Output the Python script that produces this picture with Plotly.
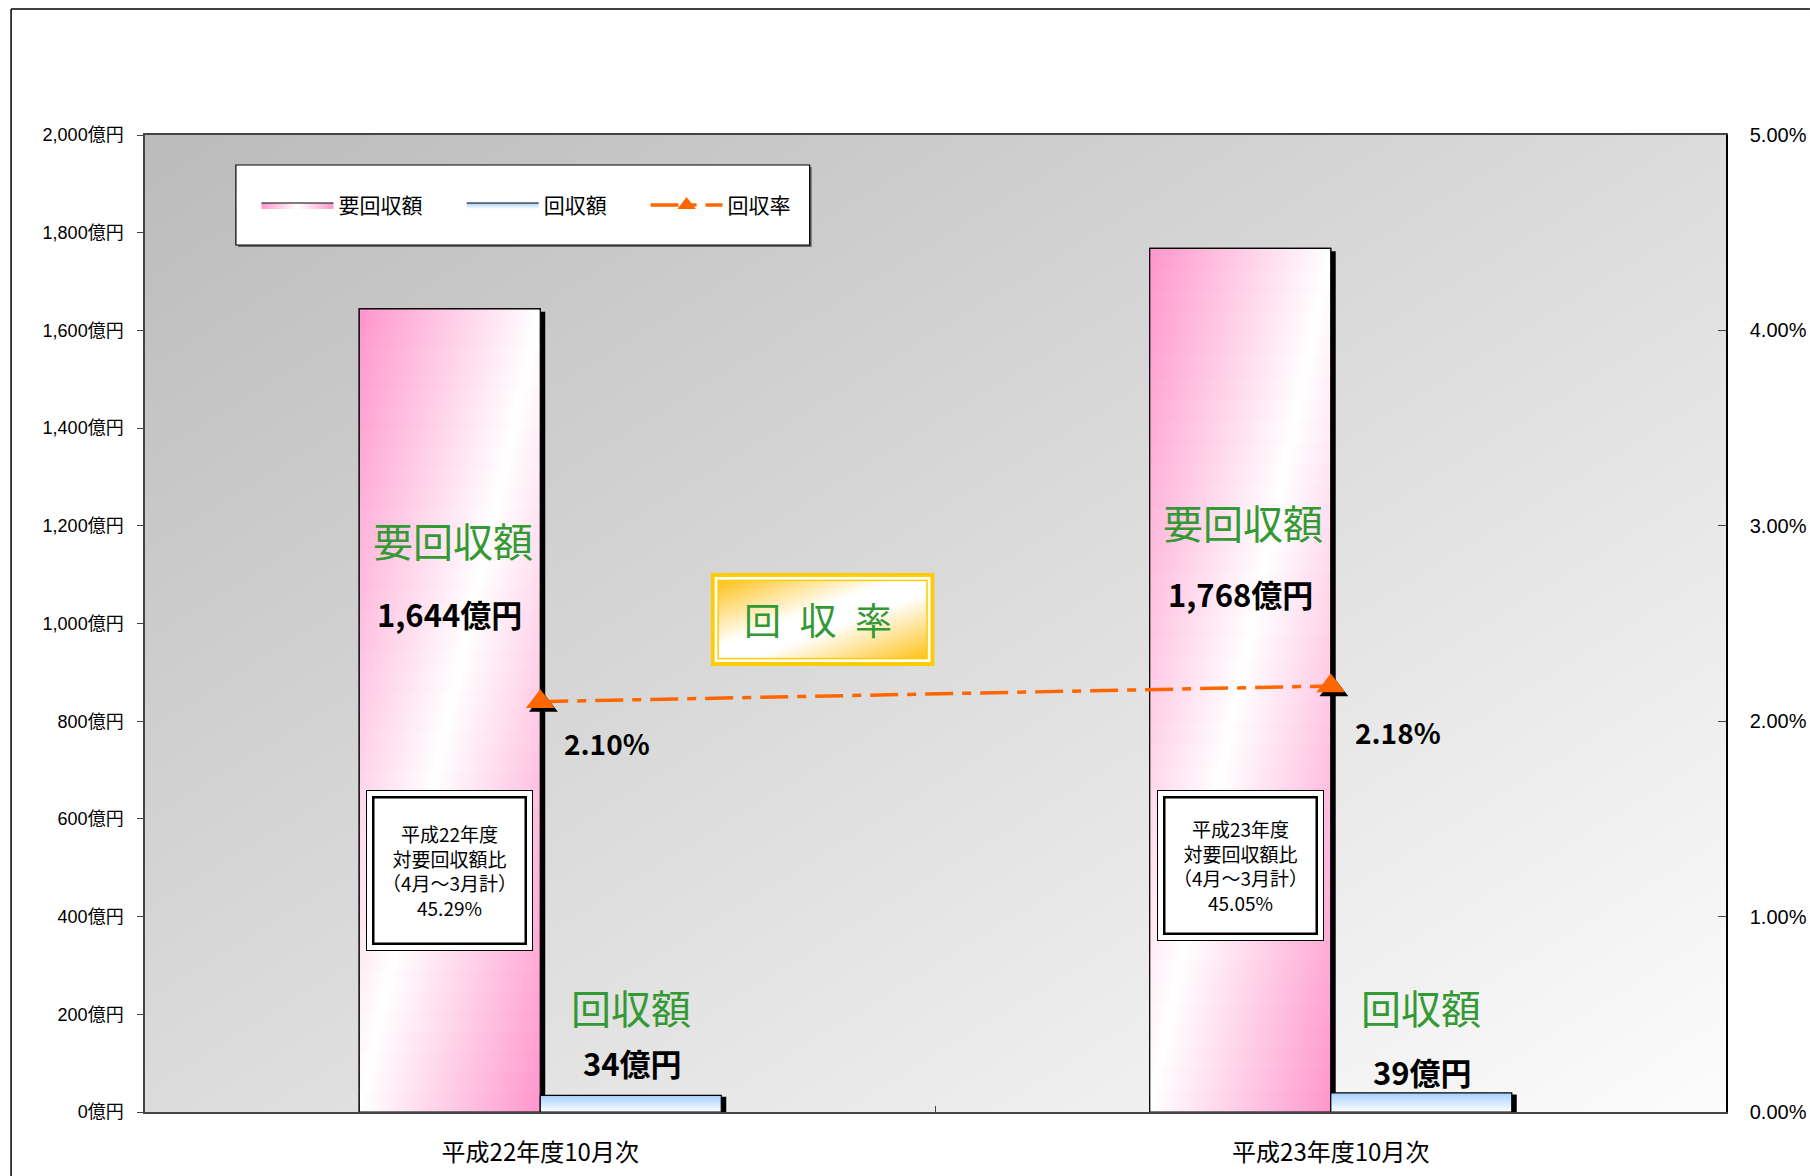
import base64
import plotly.graph_objects as go

# ---------------- data ----------------
categories = ["平成22年度10月次", "平成23年度10月次"]
required_amount = [1644, 1768]      # 要回収額 (億円)
collected_amount = [34, 39]         # 回収額 (億円)
collection_rate = [2.10, 2.18]      # 回収率 (%)
fiscal_years = ["平成22年度", "平成23年度"]
annual_ratio = [45.29, 45.05]       # 対要回収額比 (4月～3月計, %)
left_tick_values = [0, 200, 400, 600, 800, 1000, 1200, 1400, 1600, 1800, 2000]
right_tick_values = [0, 1, 2, 3, 4, 5]
series_names = ["要回収額", "回収額", "回収率"]

# ---------------- styles ----------------
JP = '"Noto Sans CJK JP", sans-serif'
ARIAL_JP = 'Arial, "Liberation Sans", "Noto Sans CJK JP", sans-serif'
GREEN = "#339933"
ORANGE = "#FF6600"
PINK_RGB = (255, 150, 204)
BAR_W = 0.229          # width of one bar, in category units
SHADOW_DX = 0.0063     # shadow offset (x, category units)
SHADOW_DY = 6          # shadow offset (y, 億円)
N_SLICES = 40          # slices used to fake the diagonal gradient
BOX_OUTER_H = [159, 149]
BOX_INNER_H = [144, 134]
LEGEND_X = [0.0705, 0.2003, 0.3166]   # paper x of each legend entry

PINK_GRAD = dict(type="horizontal",
                 colorscale=[[0, "#FF99CC"], [0.5, "#FFFFFF"], [1, "#FF99CC"]])
BLUE_GRAD = dict(type="vertical",
                 colorscale=[[0, "#FFFFFF"], [1, "#A6CFFF"]])


def pink_at(d):
    k = min(1.0, abs(d - 0.5) * 2)
    r, g, b = [round(255 * (1 - k) + c * k) for c in PINK_RGB]
    return f"rgb({r},{g},{b})"


def svg_uri(svg):
    return "data:image/svg+xml;base64," + base64.b64encode(svg.encode("utf-8")).decode("ascii")


bg_svg = ('<svg xmlns="http://www.w3.org/2000/svg" width="100" height="100" viewBox="0 0 100 100" '
          'preserveAspectRatio="none"><defs><linearGradient id="g" x1="0" y1="0" x2="1" y2="1">'
          '<stop offset="0" stop-color="#BBBBBB"/><stop offset="1" stop-color="#FCFCFC"/>'
          '</linearGradient></defs><rect width="100" height="100" fill="url(#g)"/></svg>')

box_svg = ('<svg xmlns="http://www.w3.org/2000/svg" width="224" height="94" viewBox="0 0 224 94" '
           'preserveAspectRatio="none"><defs><linearGradient id="g" x1="0" y1="0" x2="1" y2="1">'
           '<stop offset="0" stop-color="#FFC21A"/><stop offset="0.42" stop-color="#FFFFFF"/>'
           '<stop offset="0.58" stop-color="#FFFFFF"/><stop offset="1" stop-color="#FFC21A"/>'
           '</linearGradient></defs>'
           '<rect x="2" y="2" width="220" height="90" fill="#FFFFFF" stroke="#FFCC00" stroke-width="4"/>'
           '<rect x="7.5" y="7.5" width="209" height="79" fill="url(#g)" stroke="#FFCC00" stroke-width="1.5"/>'
           '</svg>')

fig = go.Figure()


def bar_poly(x0, x1, y0, y1):
    return [x0, x1, x1, x0, x0], [y0, y0, y1, y1, y0]


for i, cat in enumerate(categories):
    cx = i + 0.5
    top = required_amount[i]
    # --- 要回収額 (pink) ---
    sx, sy = bar_poly(cx - BAR_W + SHADOW_DX, cx + SHADOW_DX, 0, top - SHADOW_DY)
    fig.add_trace(go.Scatter(x=sx, y=sy, mode="lines", fill="toself", fillcolor="black",
                             line=dict(width=0, color="black"), showlegend=False, hoverinfo="skip"))
    px, py = bar_poly(cx - BAR_W, cx, 0, top)
    fig.add_trace(go.Scatter(x=px, y=py, mode="lines", fill="toself", fillcolor="#FFCCE6",
                             fillgradient=PINK_GRAD, line=dict(width=1.2, color="black"),
                             name=series_names[0], legendgroup="req", showlegend=(i == 0),
                             legend="legend", hoverinfo="skip"))
    # diagonal gradient built from horizontal slices of the same bar
    step = top / N_SLICES
    for j in range(N_SLICES):
        vm = (j + 0.5) / N_SLICES
        y0 = step * j
        y1 = min(top, step * (j + 1) + step * 0.35)
        cs = [[0, pink_at((1 - vm) / 2)], [vm, "#FFFFFF"], [1, pink_at((2 - vm) / 2)]]
        qx, qy = bar_poly(cx - BAR_W, cx, y0, y1)
        fig.add_trace(go.Scatter(x=qx, y=qy, mode="lines", fill="toself", fillcolor="#FFE0F0",
                                 fillgradient=dict(type="horizontal", colorscale=cs),
                                 line=dict(width=0, color="rgba(0,0,0,0)"),
                                 showlegend=False, hoverinfo="skip"))
    fig.add_trace(go.Scatter(x=px, y=py, mode="lines", line=dict(width=1.2, color="black"),
                             showlegend=False, hoverinfo="skip"))
    # --- 回収額 (blue) ---
    sx, sy = bar_poly(cx + SHADOW_DX, cx + BAR_W + SHADOW_DX, 0, collected_amount[i] - SHADOW_DY / 2)
    fig.add_trace(go.Scatter(x=sx, y=sy, mode="lines", fill="toself", fillcolor="black",
                             line=dict(width=0, color="black"), showlegend=False, hoverinfo="skip"))
    bx, by = bar_poly(cx, cx + BAR_W, 0, collected_amount[i])
    fig.add_trace(go.Scatter(x=bx, y=by, mode="lines", fill="toself", fillcolor="#DDEEFF",
                             fillgradient=BLUE_GRAD, line=dict(width=1.2, color="black"),
                             name=series_names[1], legendgroup="col", showlegend=(i == 0),
                             legend="legend2", hoverinfo="skip"))

cat_x = [i + 0.5 for i in range(len(categories))]

# marker shadow
fig.add_trace(go.Scatter(x=[x + 0.004 for x in cat_x], y=[r - 0.02 for r in collection_rate],
                         yaxis="y2", mode="markers",
                         marker=dict(symbol="triangle-up", size=25, color="black"),
                         showlegend=False, hoverinfo="skip"))
# 回収率 line
fig.add_trace(go.Scatter(x=cat_x, y=collection_rate, yaxis="y2", mode="lines+markers",
                         name=series_names[2], legend="legend3",
                         line=dict(color=ORANGE, width=3.5, dash="28px,9px,9px,9px"),
                         marker=dict(symbol="triangle-up", size=25, color=ORANGE),
                         hoverinfo="skip"))

# ---------------- annotations ----------------
ann = []
title_y = [1171, 1208]
amount_y = [1021, 1062]
rate_y = [755, 778]
col_title_y = [215, 215]
col_amount_y = [102, 82]
box_y = [495, 504]
for i in range(len(categories)):
    cx = i + 0.5
    pink_x = cx - BAR_W / 2
    blue_x = cx + BAR_W / 2
    ann.append(dict(x=pink_x + 0.004, y=title_y[i], text=series_names[0], showarrow=False,
                    font=dict(family=JP, size=40, color=GREEN)))
    ann.append(dict(x=pink_x, y=amount_y[i], text=f"<b>{required_amount[i]:,}億円</b>", showarrow=False,
                    font=dict(family=JP, size=31, color="black")))
    ann.append(dict(x=cx + 0.085, y=rate_y[i], text=f"<b>{collection_rate[i]:.2f}%</b>", showarrow=False,
                    font=dict(family=JP, size=28, color="black")))
    ann.append(dict(x=blue_x, y=col_title_y[i], text=series_names[1], showarrow=False,
                    font=dict(family=JP, size=40, color=GREEN)))
    ann.append(dict(x=blue_x + 0.002, y=col_amount_y[i], text=f"<b>{collected_amount[i]}億円</b>",
                    showarrow=False, font=dict(family=JP, size=31, color="black")))
    # double-bordered note box
    ann.append(dict(x=pink_x, y=box_y[i], text=" ", showarrow=False, width=165, height=BOX_OUTER_H[i],
                    bgcolor="white", bordercolor="black", borderwidth=1, borderpad=0))
    ann.append(dict(x=pink_x, y=box_y[i],
                    text=f"{fiscal_years[i]}<br>対要回収額比<br>（4月～3月計）<br>{annual_ratio[i]:.2f}%",
                    showarrow=False, width=150, height=BOX_INNER_H[i], bgcolor="white",
                    bordercolor="black", borderwidth=2.5, borderpad=0, valign="middle",
                    font=dict(family=JP, size=19, color="black")))

# 回収率 label box text
ann.append(dict(xref="paper", yref="paper", x=0.4255, y=0.5045, text="回\u2002収\u2002率",
                showarrow=False, font=dict(family=JP, size=37, color=GREEN)))

legend_common = dict(orientation="h", y=0.928, xanchor="left", yanchor="middle",
                     bgcolor="rgba(0,0,0,0)", borderwidth=0, itemwidth=72,
                     font=dict(family=JP, size=21, color="black"))

fig.update_layout(
    width=1810, height=1176,
    margin=dict(l=145, r=84, t=135, b=64, autoexpand=False),
    paper_bgcolor="white",
    plot_bgcolor="rgba(0,0,0,0)",
    showlegend=True,
    legend=dict(x=LEGEND_X[0], **legend_common),
    legend2=dict(x=LEGEND_X[1], **legend_common),
    legend3=dict(x=LEGEND_X[2], **legend_common),
    xaxis=dict(range=[0, 2], tickmode="array", tickvals=cat_x, ticktext=categories,
               ticks="", showgrid=False, zeroline=False, showline=True, linecolor="#444444",
               linewidth=1.5, mirror=True, ticklabelstandoff=18, automargin=False,
               tickfont=dict(family=JP, size=24, color="black"),
               minor=dict(tickmode="array", tickvals=[1], ticks="inside", ticklen=6,
                          tickcolor="#444444", showgrid=False)),
    yaxis=dict(range=[0, 2000], tickmode="array", tickvals=left_tick_values,
               ticktext=[f"{v:,}億円" for v in left_tick_values],
               ticks="outside", ticklen=6, tickcolor="#444444", showgrid=False, zeroline=False,
               showline=True, linecolor="#444444", linewidth=1.5, ticklabelstandoff=10,
               automargin=False, tickfont=dict(family=ARIAL_JP, size=18, color="black")),
    yaxis2=dict(range=[0, 5], overlaying="y", side="right", tickmode="array",
                tickvals=right_tick_values, ticktext=[f"{v:.2f}%" for v in right_tick_values],
                ticks="inside", ticklen=8, tickcolor="#444444", showgrid=False, zeroline=False,
                showline=True, linecolor="black", linewidth=1.5, ticklabelstandoff=18,
                automargin=False, tickfont=dict(family=ARIAL_JP, size=20, color="black")),
    annotations=ann,
    images=[
        dict(source=svg_uri(bg_svg), xref="paper", yref="paper", x=0, y=1, sizex=1, sizey=1,
             xanchor="left", yanchor="top", sizing="stretch", layer="below"),
        dict(source=svg_uri(box_svg), xref="paper", yref="paper", x=0.3578, y=0.5517,
             sizex=0.1416, sizey=0.0952, xanchor="left", yanchor="top", sizing="stretch",
             layer="above"),
    ],
    shapes=[
        # outer chart-area frame (left and top edges visible)
        dict(type="line", xref="paper", yref="paper", x0=-0.0847, y0=-0.0655, x1=-0.0847, y1=1.1289,
             line=dict(color="black", width=1.5), layer="below"),
        dict(type="line", xref="paper", yref="paper", x0=-0.0847, y0=1.1289, x1=1.0531, y1=1.1289,
             line=dict(color="black", width=1.5), layer="below"),
        # legend box (shadow + box)
        dict(type="rect", xref="paper", yref="paper", x0=0.0588, y0=0.8853, x1=0.4217, y1=0.9673,
             line=dict(width=0), fillcolor="#666666", layer="above"),
        dict(type="rect", xref="paper", yref="paper", x0=0.0575, y0=0.8874, x1=0.4204, y1=0.9693,
             line=dict(color="black", width=1.2), fillcolor="white", layer="above"),
    ],
)

fig.write_html("out.html", config={"displayModeBar": False},
               post_script="document.body.style.margin='0';document.body.style.overflow='hidden';")
